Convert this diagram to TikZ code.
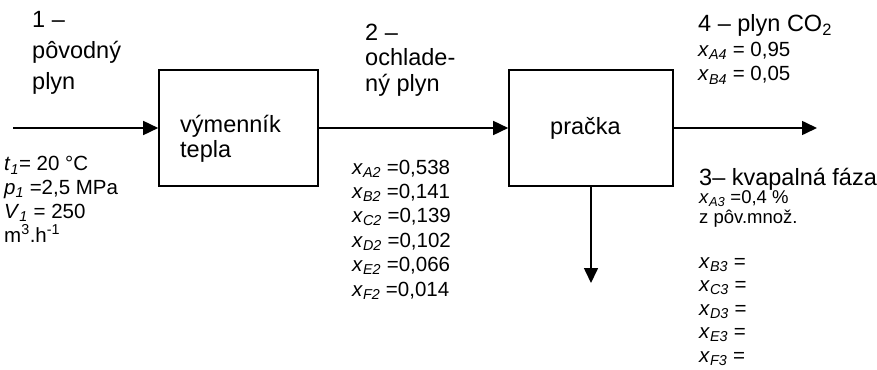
\documentclass[tikz,border=0pt]{standalone}
\usepackage{fontspec}
\setmainfont{Liberation Sans}
\usetikzlibrary{arrows.meta}

\newcommand{\vx}[1]{\textit{x}\textsubscript{\textit{#1}}}
\newcommand{\velke}{\fontsize{23.5}{25.5}\selectfont}
\newcommand{\male}{\fontsize{20.5}{24.4}\selectfont}

\begin{document}
\begin{tikzpicture}[x=1pt,y=-1pt,
    blok/.style={draw,line width=1.6pt,minimum height=116pt,inner sep=0pt},
    tok/.style={line width=1.6pt,-{Triangle[length=15pt,width=14pt]}},
    popis/.style={anchor=base west,align=left,inner sep=0pt}]
  \useasboundingbox (0,0) rectangle (877,369);

  % aparaty (popis sedi na zakladnej ciare posledneho riadku)
  \node[blok,minimum width=159pt] (vym) at (238.5,128) {};
  \node[blok,minimum width=164pt] (pracka) at (591,128) {};
  \node[popis,font=\velke] (vymtext) at (180,157.5) {výmenník\\tepla};
  \node[popis,font=\velke] (prtext) at (550,134) {pračka};

  % prudy
  \coordinate (vstup) at (13,128);
  \coordinate (vystup4) at (817,128);
  \coordinate (vystup3) at (591,283);
  \draw[tok] (vstup) -- (vym.west);
  \draw[tok] (vym.east) -- (pracka.west);
  \draw[tok] (pracka.east) -- (vystup4);
  \draw[tok] (pracka.south) -- (vystup3);

  % prud 1
  \node[popis,font=\fontsize{23.5}{31}\selectfont] (p1) at (32,89) {1 –\\pôvodný\\plyn};
  \node[popis,font=\fontsize{20.5}{23.7}\selectfont] (par1) at (4,242)
    {\textit{t}\textsubscript{\textit{1}}= 20 °C\\
     \textit{p}\textsubscript{\textit{1}} =2,5 MPa\\
     \textit{V}\textsubscript{\textit{1}} = 250\\
     m\textsuperscript{3}.h\textsuperscript{-1}};

  % prud 2
  \node[popis,font=\velke] (p2) at (365,91) {2 –\\ochlade-\\ný plyn};
  \node[popis,font=\male] (zlozenie2) at (352,296)
    {\vx{A2} =0,538\\ \vx{B2} =0,141\\ \vx{C2} =0,139\\
     \vx{D2} =0,102\\ \vx{E2} =0,066\\ \vx{F2} =0,014};

  % prud 4
  \node[popis,font=\velke] (p4) at (698,32) {4 – plyn CO\textsubscript{2}};
  \node[popis,font=\male] (zlozenie4) at (698,81) {\vx{A4} = 0,95\\ \vx{B4} = 0,05};

  % prud 3
  \node[popis,font=\velke] (p3) at (699,185) {3– kvapalná fáza};
  \node[popis,font=\fontsize{18.5}{20}\selectfont] (zlozenie3a) at (699,223)
    {\vx{A3} =0,4 \%\\z pôv.množ.};
  \node[popis,font=\fontsize{20.5}{23.5}\selectfont] (zlozenie3) at (699,362)
    {\vx{B3} =\\ \vx{C3} =\\ \vx{D3} =\\ \vx{E3} =\\ \vx{F3} =};
\end{tikzpicture}
\end{document}
